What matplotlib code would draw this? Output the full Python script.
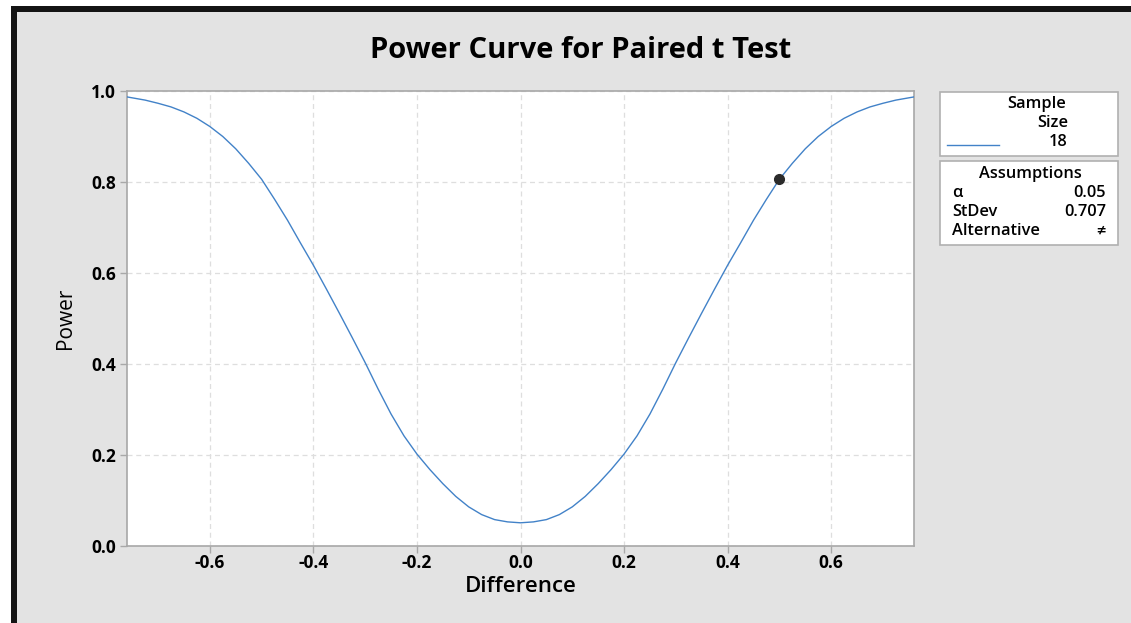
import matplotlib
matplotlib.use("Agg")
import matplotlib.pyplot as plt
from matplotlib.patches import Rectangle
from matplotlib.lines import Line2D

plt.rcParams['font.family'] = ['Open Sans', 'DejaVu Sans']

# Data
difference = [-0.76, -0.725, -0.70, -0.675, -0.65, -0.625, -0.60, -0.575, -0.55, -0.525,
              -0.50, -0.475, -0.45, -0.425, -0.40, -0.375, -0.35, -0.325, -0.30, -0.275,
              -0.25, -0.225, -0.20, -0.175, -0.15, -0.125, -0.10, -0.075, -0.05, -0.025,
              0.00,
              0.025, 0.05, 0.075, 0.10, 0.125, 0.15, 0.175, 0.20, 0.225, 0.25,
              0.275, 0.30, 0.325, 0.35, 0.375, 0.40, 0.425, 0.45, 0.475, 0.50,
              0.525, 0.55, 0.575, 0.60, 0.625, 0.65, 0.675, 0.70, 0.725, 0.76]
power = [0.987, 0.980, 0.973, 0.965, 0.954, 0.940, 0.922, 0.900, 0.873, 0.841,
         0.806, 0.762, 0.716, 0.666, 0.617, 0.565, 0.512, 0.458, 0.403, 0.345,
         0.290, 0.242, 0.202, 0.168, 0.137, 0.109, 0.086, 0.069, 0.058, 0.053,
         0.051,
         0.053, 0.058, 0.069, 0.086, 0.109, 0.137, 0.168, 0.202, 0.242, 0.290,
         0.345, 0.403, 0.458, 0.512, 0.565, 0.617, 0.666, 0.716, 0.762, 0.806,
         0.841, 0.873, 0.900, 0.922, 0.940, 0.954, 0.965, 0.973, 0.980, 0.987]
point_x = [0.5]
point_y = [0.806]
xticks = [-0.6, -0.4, -0.2, 0.0, 0.2, 0.4, 0.6]
yticks = [0.0, 0.2, 0.4, 0.6, 0.8, 1.0]
sample_size = "18"
alpha_val = "0.05"
stdev_val = "0.707"
alt_val = "\u2260"

W, H = 1131, 623
fig = plt.figure(figsize=(W / 100, H / 100), dpi=100)
fig.patch.set_facecolor('white')

def fx(px):
    return px / W

def fy(py):
    return 1 - py / H

# gray background and black screenshot borders
fig.patches.append(Rectangle((fx(11), 0), 1 - fx(11), fy(6), transform=fig.transFigure,
                             facecolor='#e3e3e3', edgecolor='none', zorder=-10))
fig.patches.append(Rectangle((fx(11), fy(12)), 1 - fx(11), fy(6) - fy(12), transform=fig.transFigure,
                             facecolor='#141414', edgecolor='none', zorder=-9))
fig.patches.append(Rectangle((fx(11), 0), fx(17) - fx(11), fy(6), transform=fig.transFigure,
                             facecolor='#141414', edgecolor='none', zorder=-9))

ax = fig.add_axes([fx(127), fy(546), fx(914) - fx(127), fy(91) - fy(546)])
ax.set_zorder(5)
ax.set_facecolor('white')
ax.plot(difference, power, color='#4282c8', lw=1.0, zorder=3)
ax.plot(point_x, point_y, 'o', color='#2b2b2b', ms=7, zorder=4)
ax.set_xlim(-0.76, 0.76)
ax.set_ylim(0, 1.0)
ax.set_xticks(xticks)
ax.set_yticks(yticks)
ax.set_xticklabels([f"{v:.1f}" for v in xticks], fontsize=12.5, fontweight='bold')
ax.set_yticklabels([f"{v:.1f}" for v in yticks], fontsize=12.5, fontweight='bold')
ax.grid(True, color='#dedede', ls=(0, (4, 3)), lw=0.9)
for s in ax.spines.values():
    s.set_color('#a8a8a8')
    s.set_linewidth(1.2)
ax.tick_params(axis='both', colors='#a8a8a8', labelcolor='black', length=5, width=1)
ax.tick_params(axis='x', pad=1)
ax.tick_params(axis='y', pad=3)
ax.set_xlabel('Difference', fontsize=16, fontweight='semibold', labelpad=3)
ax.set_ylabel('Power', fontsize=15, labelpad=11)

fig.text(fx(581), fy(51), 'Power Curve for Paired t Test', fontsize=21, fontweight='bold',
         ha='center', va='center')

# legend boxes
fig.patches.append(Rectangle((fx(940), fy(156)), fx(1118) - fx(940), fy(92) - fy(156),
                             transform=fig.transFigure, facecolor='white', edgecolor='#b0b0b0', lw=1.2, zorder=2))
fig.patches.append(Rectangle((fx(940), fy(245)), fx(1118) - fx(940), fy(161) - fy(245),
                             transform=fig.transFigure, facecolor='white', edgecolor='#b0b0b0', lw=1.2, zorder=2))
fs = 11.8
fig.text(fx(1037), fy(104), 'Sample', fontsize=fs, fontweight='semibold', ha='center', va='center')
fig.text(fx(1068), fy(123), 'Size', fontsize=fs, fontweight='semibold', ha='right', va='center')
fig.text(fx(1068), fy(142), sample_size, fontsize=fs, fontweight='semibold', ha='right', va='center')
fig.lines.append(Line2D([fx(947), fx(999)], [fy(145), fy(145)], transform=fig.transFigure,
                        color='#4282c8', lw=1.0, zorder=3))
fig.text(fx(1030), fy(174), 'Assumptions', fontsize=fs, fontweight='semibold', ha='center', va='center')
rows = [('\u03b1', alpha_val), ('StDev', stdev_val), ('Alternative', alt_val)]
for i, (k, v) in enumerate(rows):
    y = 193 + 19 * i
    fig.text(fx(952), fy(y), k, fontsize=fs, fontweight='semibold', ha='left', va='center')
    fig.text(fx(1106), fy(y), v, fontsize=fs, fontweight='semibold', ha='right', va='center')

fig.savefig('out.png', dpi=100, facecolor=fig.get_facecolor())
